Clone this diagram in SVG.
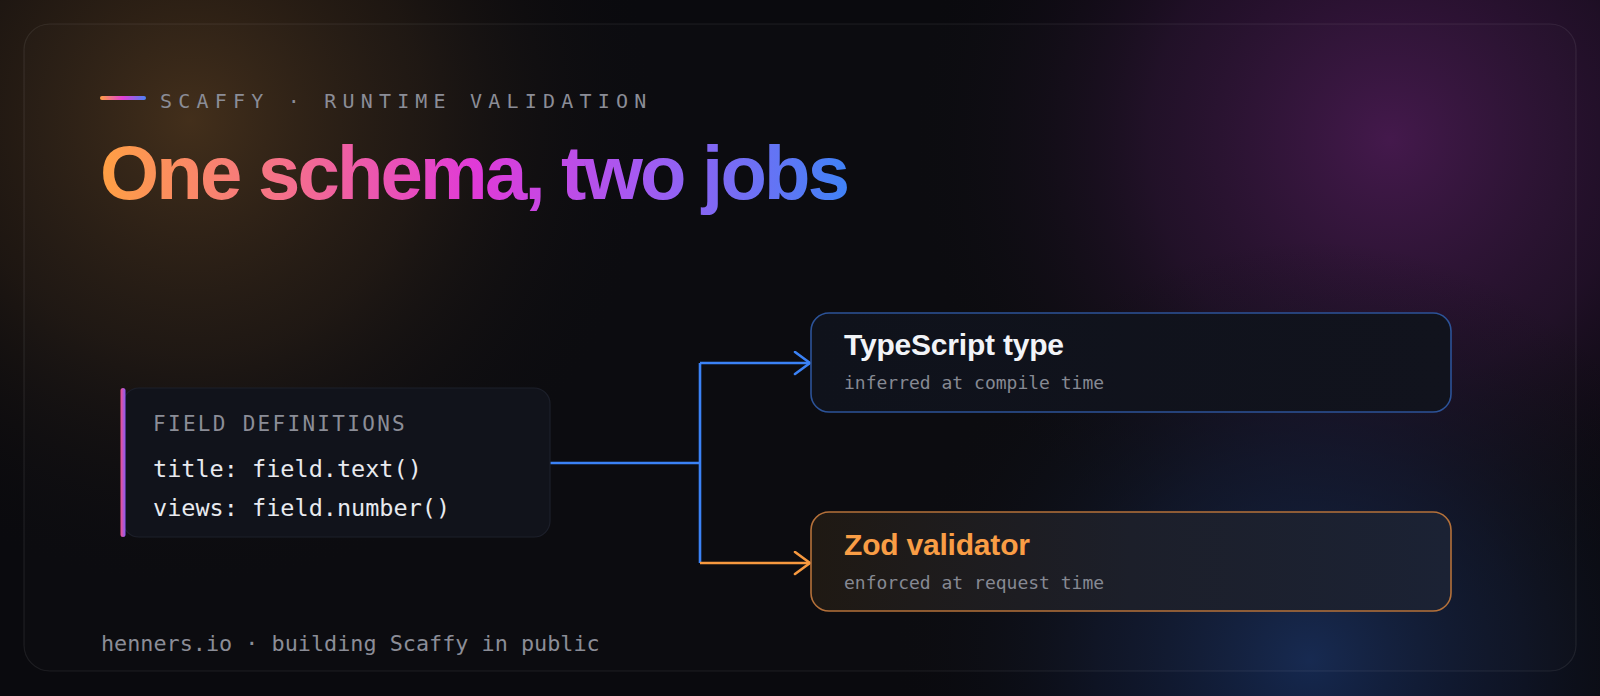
<svg xmlns="http://www.w3.org/2000/svg" width="1600" height="696" viewBox="0 0 1600 696">
  <defs>
    <radialGradient id="glowTL" cx="190" cy="120" r="470" gradientUnits="userSpaceOnUse">
      <stop offset="0" stop-color="#412d19" stop-opacity="1"/>
      <stop offset="0.5" stop-color="#2a1e14" stop-opacity="0.6"/>
      <stop offset="1" stop-color="#0a0a0e" stop-opacity="0"/>
    </radialGradient>
    <radialGradient id="glowTR" cx="1390" cy="140" r="480" gradientUnits="userSpaceOnUse">
      <stop offset="0" stop-color="#42174a" stop-opacity="1"/>
      <stop offset="0.5" stop-color="#2b1233" stop-opacity="0.65"/>
      <stop offset="1" stop-color="#0a0a0e" stop-opacity="0"/>
    </radialGradient>
    <radialGradient id="glowBR" cx="1310" cy="660" r="420" gradientUnits="userSpaceOnUse">
      <stop offset="0" stop-color="#15284f" stop-opacity="1"/>
      <stop offset="0.5" stop-color="#111a33" stop-opacity="0.6"/>
      <stop offset="1" stop-color="#0a0a0e" stop-opacity="0"/>
    </radialGradient>
    <linearGradient id="titleGrad" x1="100" y1="0" x2="850" y2="0" gradientUnits="userSpaceOnUse">
      <stop offset="0" stop-color="#ffa043"/>
      <stop offset="0.25" stop-color="#f56f8c"/>
      <stop offset="0.5" stop-color="#e03ad8"/>
      <stop offset="0.72" stop-color="#a45af2"/>
      <stop offset="1" stop-color="#3f83f6"/>
    </linearGradient>
    <linearGradient id="lineGrad" x1="0" y1="0" x2="1" y2="0">
      <stop offset="0" stop-color="#ff9f43"/>
      <stop offset="0.5" stop-color="#e040d8"/>
      <stop offset="1" stop-color="#4a82f5"/>
    </linearGradient>
    <linearGradient id="barGrad" x1="0" y1="0" x2="1" y2="0">
      <stop offset="0" stop-color="#f0508f"/>
      <stop offset="1" stop-color="#8a5cf6"/>
    </linearGradient>
    <linearGradient id="tsFill" x1="0" y1="0" x2="1" y2="0">
      <stop offset="0" stop-color="#0f121b"/>
      <stop offset="1" stop-color="#11131d"/>
    </linearGradient>
    <linearGradient id="zodFill" x1="0" y1="0" x2="1" y2="0">
      <stop offset="0" stop-color="#1f1913"/>
      <stop offset="0.5" stop-color="#1c1f2a"/>
      <stop offset="1" stop-color="#1b2234"/>
    </linearGradient>
    <marker id="arrowBlue" markerUnits="userSpaceOnUse" markerWidth="22" markerHeight="28" refX="17" refY="12" orient="auto">
      <path d="M2,1 L17,12 L2,23" fill="none" stroke="#3b82f6" stroke-width="2.6" stroke-linecap="round" stroke-linejoin="round"/>
    </marker>
    <marker id="arrowOrange" markerUnits="userSpaceOnUse" markerWidth="22" markerHeight="28" refX="17" refY="12" orient="auto">
      <path d="M2,1 L17,12 L2,23" fill="none" stroke="#f7993f" stroke-width="2.6" stroke-linecap="round" stroke-linejoin="round"/>
    </marker>
  </defs>
  <style>
    .mono { font-family: "DejaVu Sans Mono", "Liberation Mono", monospace; }
    .sans { font-family: "Liberation Sans", Arial, sans-serif; font-weight: bold; }
    .muted { fill: #8b8d97; }
    .sub { font-size: 18px; fill: #868993; }
    .code { font-size: 23.5px; fill: #e8eaef; }
    .nodeTitle { font-size: 30px; letter-spacing: -0.2px; }
    .conn { fill: none; stroke-width: 2.6; }
  </style>

  <rect x="0" y="0" width="1600" height="696" fill="#0a0a0e"/>
  <rect x="0" y="0" width="1600" height="696" fill="url(#glowTL)"/>
  <rect x="0" y="0" width="1600" height="696" fill="url(#glowTR)"/>
  <rect x="0" y="0" width="1600" height="696" fill="url(#glowBR)"/>

  <rect x="24" y="24" width="1552" height="647" rx="26" fill="#ffffff" fill-opacity="0.01" stroke="#ffffff" stroke-opacity="0.08" stroke-width="1.2"/>

  <g id="header">
    <rect x="100" y="96" width="46" height="4" rx="2" fill="url(#lineGrad)"/>
    <text x="160" y="108" class="mono muted" font-size="20" letter-spacing="6.2">SCAFFY · RUNTIME VALIDATION</text>
    <text x="100" y="199" class="sans" font-size="76" fill="url(#titleGrad)" textLength="750" lengthAdjust="spacing">One schema, two jobs</text>
  </g>

  <g id="connectors">
    <path class="conn" d="M550,463 H700 M700,363 V563" stroke="#3b82f6"/>
    <path class="conn" d="M700,363 H810" stroke="#3b82f6" marker-end="url(#arrowBlue)"/>
    <path class="conn" d="M700,563 H810" stroke="#f7993f" marker-end="url(#arrowOrange)"/>
  </g>

  <g id="field-definitions">
    <rect x="123" y="388" width="427" height="149" rx="16" fill="#11131b" stroke="#1d202b" stroke-width="1.2"/>
    <rect x="120.5" y="388" width="5" height="149" rx="2.5" fill="url(#barGrad)"/>
    <text x="153" y="431" class="mono muted" font-size="21" letter-spacing="2.3">FIELD DEFINITIONS</text>
    <text x="153" y="477" class="mono code">title: field.text()</text>
    <text x="153" y="516" class="mono code">views: field.number()</text>
  </g>

  <g id="typescript-type">
    <rect x="811" y="313" width="640" height="99" rx="18" fill="url(#tsFill)" stroke="#2c5398" stroke-width="1.6"/>
    <text x="844" y="355" class="sans nodeTitle" fill="#f2f4f8">TypeScript type</text>
    <text x="844" y="389" class="mono sub">inferred at compile time</text>
  </g>

  <g id="zod-validator">
    <rect x="811" y="512" width="640" height="99" rx="18" fill="url(#zodFill)" stroke="#b5713a" stroke-width="1.6"/>
    <text x="844" y="555" class="sans nodeTitle" fill="#f99d45">Zod validator</text>
    <text x="844" y="589" class="mono sub">enforced at request time</text>
  </g>

  <g id="footer">
    <text x="101" y="651" class="mono muted" font-size="21.8">henners.io · building Scaffy in public</text>
  </g>
</svg>
